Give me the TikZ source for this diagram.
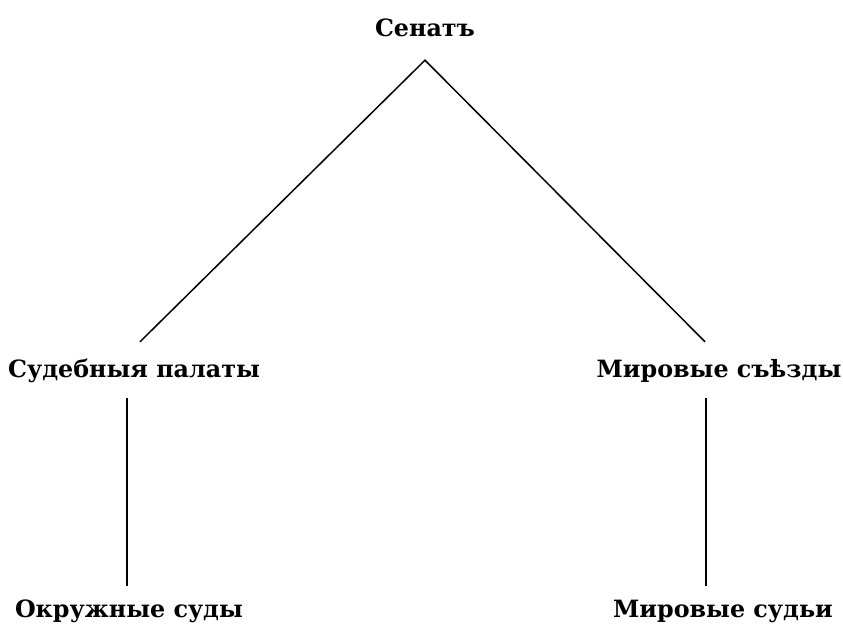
\documentclass[tikz,border=0pt]{standalone}
\usepackage{fontspec}
\setmainfont{DejaVu Serif}
\usepackage{tikz}

\begin{document}
\begin{tikzpicture}[
    x=1pt, y=-1pt,
    court/.style={anchor=base, font=\fontsize{23.8}{28}\selectfont\bfseries, inner xsep=0pt, text height=20pt, text depth=6pt},
    link/.style={line width=1.5pt}
]
\useasboundingbox (0,0) rectangle (843,628);

% Top of the hierarchy
\node (senat) [court, inner ysep=17pt] at (425,37) {Сенатъ};

% Second level
\node (palaty) [court, inner ysep=15pt] at (134,377) {Судебныя палаты};
\node (sjezdy) [court, inner ysep=15pt] at (719,377) {Мировые съѣзды};

% Lower courts
\node (okrug) [court, inner ysep=11pt] at (129,617) {Окружные суды};
\node (mir) [court, inner ysep=11pt] at (723,617) {Мировые судьи};

% Connections
\draw [link] ([xshift=6pt]palaty.north) -- (senat.south) -- ([xshift=-14pt]sjezdy.north);
\draw [link] ([xshift=-7pt]palaty.south) -- ([xshift=-2pt]okrug.north);
\draw [link] ([xshift=-13pt]sjezdy.south) -- ([xshift=-17pt]mir.north);

\end{tikzpicture}
\end{document}
